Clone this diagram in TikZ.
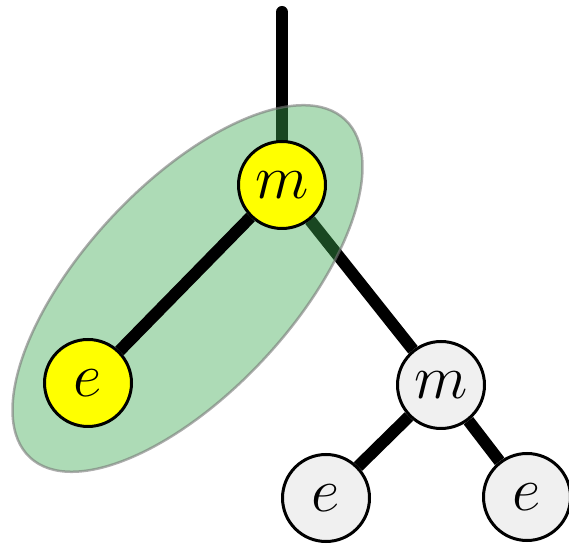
\documentclass[tikz,border=0pt]{standalone}
\usepackage{graphicx}
\usetikzlibrary{backgrounds}
\pgfdeclarelayer{edgesbelow}
\pgfdeclarelayer{ell}
\pgfdeclarelayer{edgesabove}
\pgfsetlayers{edgesbelow,ell,edgesabove,main}
\definecolor{nodeyellow}{RGB}{255,255,0}
\definecolor{nodegray}{RGB}{240,240,240}
\definecolor{ellgreen}{RGB}{60,170,80}
\definecolor{ellborder}{RGB}{120,120,120}
\newcommand{\biglbl}[1]{\scalebox{2.5}{\Huge$#1$}}
\tikzset{
  vert/.style={circle, draw=black, line width=3pt, minimum size=87pt, inner sep=0pt},
  yel/.style={vert, fill=nodeyellow},
  gry/.style={vert, fill=nodegray},
  edge/.style={line width=12pt, black},
  grp/.style={fill=ellgreen, fill opacity=0.42, draw=ellborder, draw opacity=0.6, line width=2.5pt}
}
\begin{document}
\begin{tikzpicture}[x=1pt,y=1pt]
\useasboundingbox (0,0) rectangle (569,545);
\node[yel] (m1) at (282,360) {\biglbl{m}};
\node[yel] (e1) at (88,162) {\biglbl{e}};
\node[gry] (m2) at (441,160) {\biglbl{m}};
\node[gry] (e2) at (326,47) {\biglbl{e}};
\node[gry] (e3) at (527,48) {\biglbl{e}};
\coordinate (top) at (282,533);
\begin{pgfonlayer}{edgesbelow}
  \draw[edge, line cap=round] (top) -- (m1);
  \draw[edge] (m1) -- (m2);
\end{pgfonlayer}
\begin{pgfonlayer}{ell}
  \draw[grp, rotate around={47:(187.5,256.5)}] (187.5,256.5) ellipse [x radius=231pt, y radius=104pt];
\end{pgfonlayer}
\begin{pgfonlayer}{edgesabove}
  \draw[edge] (m1) -- (e1);
  \draw[edge] (m2) -- (e2);
  \draw[edge] (m2) -- (e3);
\end{pgfonlayer}
\end{tikzpicture}
\end{document}
